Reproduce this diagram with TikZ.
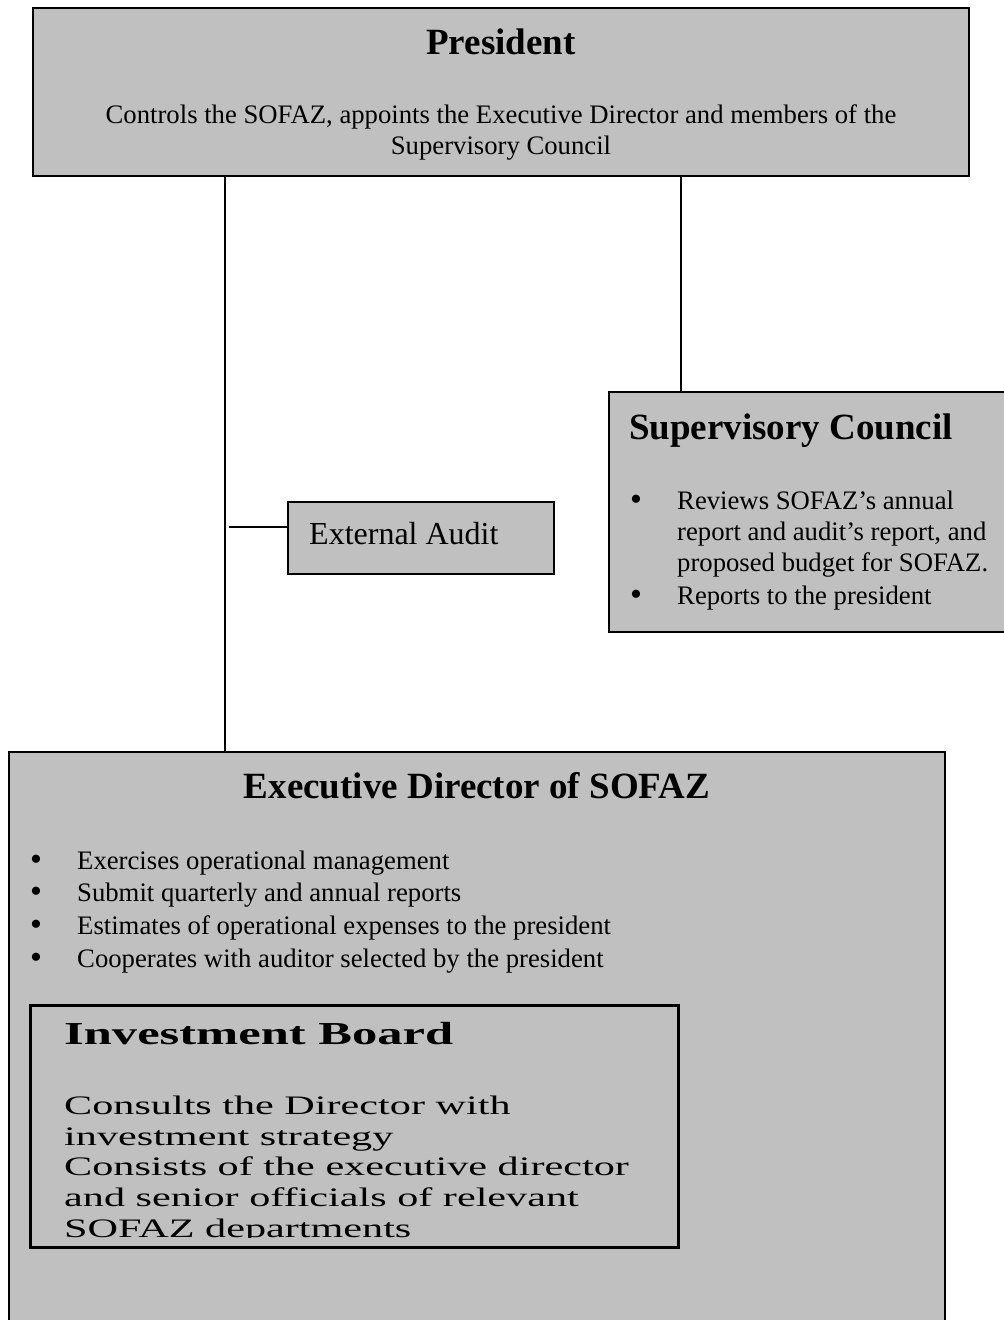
\documentclass[tikz,border=0pt]{standalone}
\usepackage{fontspec}
\setmainfont{Liberation Serif}
\newfontfamily\wideserif[FakeStretch=1.58]{Liberation Serif}
\definecolor{boxgray}{HTML}{C0C0C0}
\begin{document}
\begin{tikzpicture}[x=1pt,y=-1pt,
  box/.style={draw=black,fill=boxgray,line width=2pt,anchor=north west,inner sep=0pt,outer sep=0pt},
  conn/.style={draw=black,line width=1.5pt},
  txt/.style={inner sep=0pt,anchor=base west,font=\fontsize{26.7}{31}\selectfont},
  ctxt/.style={inner sep=0pt,anchor=base,font=\fontsize{26.7}{31}\selectfont},
  ttl/.style={inner sep=0pt,anchor=base,font=\fontsize{37}{42}\selectfont\bfseries},
  ttlw/.style={inner sep=0pt,anchor=base west,font=\fontsize{37}{42}\selectfont\bfseries},
  bul/.style={inner sep=0pt,anchor=base,font=\fontsize{34}{31}\selectfont},
  wtxt/.style={inner sep=0pt,anchor=base west,font=\fontsize{26.7}{31}\selectfont\wideserif},
  wttl/.style={inner sep=0pt,anchor=base west,font=\fontsize{32}{36}\selectfont\wideserif\bfseries}]
\useasboundingbox (0,0) rectangle (1004,1320);

% boxes
\node[box,minimum width=936pt,minimum height=168pt] (pres) at (33,8) {};
\node[box,minimum width=420pt,minimum height=240pt] (sup) at (609,392) {};
\node[box,minimum width=266pt,minimum height=72pt] (ea) at (288,502) {};
\node[box,minimum width=936pt,minimum height=600pt] (exec) at (9,752) {};
\node[box,line width=3pt,minimum width=648pt,minimum height=242pt] (inv) at (30,1005) {};

% connectors
\draw[conn] ([xshift=192pt]pres.south west) -- ([xshift=192pt]pres.south west |- exec.north);
\draw[conn] ([xshift=72pt]sup.north west) -- ([xshift=72pt]sup.north west |- pres.south);
\coordinate (eastart) at (229,527);
\draw[conn] (eastart) -- (eastart -| ea.west);

% President
\node[ttl] (prest) at (501,54) {President};
\node[ctxt] (presl1) at (501,123) {Controls the SOFAZ, appoints the Executive Director and members of the};
\node[ctxt] (presl2) at (501,154) {Supervisory Council};

% Supervisory Council
\node[ttlw] (supt) at (629,439) {Supervisory Council};
\node[bul] (supb1) at (636,510) {\textbullet};
\node[txt] (supl1) at (677,509) {Reviews SOFAZ’s annual};
\node[txt] (supl2) at (677,540) {report and audit’s report, and};
\node[txt] (supl3) at (677,571) {proposed budget for SOFAZ.};
\node[bul] (supb2) at (636,605) {\textbullet};
\node[txt] (supl4) at (677,604) {Reports to the president};

% External Audit
\node[inner sep=0pt,anchor=base west,font=\fontsize{32}{36}\selectfont] (eat) at (309,544) {External Audit};

% Executive Director
\node[ttl] (exect) at (477,798) {Executive Director of SOFAZ};
\node[bul] (exb1) at (36,870) {\textbullet};
\node[txt] (exl1) at (77,869) {Exercises operational management};
\node[bul] (exb2) at (36,902) {\textbullet};
\node[txt] (exl2) at (77,901) {Submit quarterly and annual reports};
\node[bul] (exb3) at (36,935) {\textbullet};
\node[txt] (exl3) at (77,934) {Estimates of operational expenses to the president};
\node[bul] (exb4) at (36,968) {\textbullet};
\node[txt] (exl4) at (77,967) {Cooperates with auditor selected by the president};

% Investment Board
\node[wttl] (invt) at (64,1044) {Investment Board};
\begin{scope}
\clip (inv.north west) rectangle ([yshift=10pt]inv.south east);
\node[wtxt] (invl1) at (64,1114) {Consults the Director with};
\node[wtxt] (invl2) at (64,1145) {investment strategy};
\node[wtxt] (invl3) at (64,1175) {Consists of the executive director};
\node[wtxt] (invl4) at (64,1206) {and senior officials of relevant};
\node[wtxt] (invl5) at (64,1237) {SOFAZ departments};
\end{scope}
\end{tikzpicture}
\end{document}
